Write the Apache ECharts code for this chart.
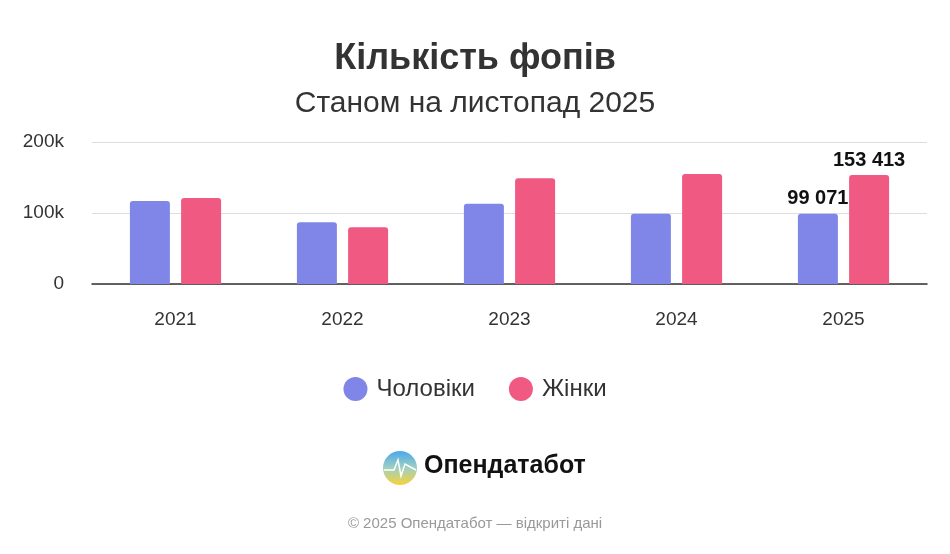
<!DOCTYPE html>
<html>
<head>
<meta charset="utf-8">
<script src="https://cdn.jsdelivr.net/npm/echarts@6/dist/echarts.min.js"></script>
<style>html,body{margin:0;background:#fff}#chart{width:950px;height:554px}</style>
</head>
<body>
<div id="chart"></div>
<script>
// дані
var years = ['2021', '2022', '2023', '2024', '2025'];
var men = [117000, 87000, 113000, 99000, 99071];
var women = [121000, 80000, 149000, 155000, 153413];

function fmt(v) {
	return String(v).replace(/\B(?=(\d{3})+(?!\d))/g, ' ');
}

var myChart = echarts.init(document.getElementById('chart'));
var lastLabel = {
	show: true, position: 'top', color: '#111', fontWeight: 'bold', fontSize: 20,
	fontFamily: 'Arial', formatter: function (p) { return fmt(p.value); }
};
var option = {
	animation: false,
	title: {
		text: 'Кількість фопів',
		subtext: 'Станом на листопад 2025',
		left: 'center', top: 36, itemGap: 12,
		textStyle: { fontSize: 36, fontWeight: 'bold', color: '#333', fontFamily: 'Arial' },
		subtextStyle: { fontSize: 30, color: '#333', fontFamily: 'Arial' }
	},
	legend: {
		data: ['Чоловіки', 'Жінки'],
		bottom: 148, itemGap: 34,
		icon: 'circle', itemWidth: 24, itemHeight: 24,
		textStyle: { fontSize: 24, color: '#333', fontFamily: 'Arial', padding: [0, 0, 0, 4] }
	},
	grid: { left: 92, right: 23, top: 142, height: 142 },
	xAxis: {
		type: 'category', data: years,
		axisTick: { show: false },
		axisLine: { lineStyle: { color: '#333', width: 1.5 } },
		axisLabel: { fontSize: 19, color: '#333', margin: 26, fontFamily: 'Arial' }
	},
	yAxis: {
		type: 'value', min: 0, max: 200000, interval: 100000,
		axisLabel: { fontSize: 19, color: '#333', fontFamily: 'Arial', margin: 28,
			formatter: function (v) { return v === 0 ? '0' : v / 1000 + 'k'; } },
		splitLine: { lineStyle: { color: '#ddd' } }
	},
	series: [
		{
			name: 'Чоловіки', type: 'bar', barWidth: 40, barGap: '28%',
			itemStyle: { color: '#8086e8', borderRadius: [3, 3, 0, 0] },
			data: men.map(function (v, i) { return i === men.length - 1 ? { value: v, label: lastLabel } : v; })
		},
		{
			name: 'Жінки', type: 'bar', barWidth: 40,
			itemStyle: { color: '#f05a82', borderRadius: [3, 3, 0, 0] },
			data: women.map(function (v, i) { return i === women.length - 1 ? { value: v, label: lastLabel } : v; })
		}
	],
	graphic: [
		{ type: 'circle', shape: { cx: 400, cy: 468, r: 17 },
			style: { fill: new echarts.graphic.LinearGradient(0, 0, 0, 1, [
				{ offset: 0, color: '#4aa8ec' }, { offset: 0.5, color: '#9fd0c0' }, { offset: 1, color: '#f7d23a' }]) } },
		{ type: 'polyline', shape: { points: [[384, 470], [394, 470], [398, 460], [401, 476], [405, 464], [416, 470]] },
			style: { stroke: '#fff', lineWidth: 1.5, fill: null } },
		{ type: 'text', left: 424, top: 454,
			style: { text: 'Опендатабот', fontSize: 25, fontWeight: 'bold', fill: '#111', fontFamily: 'Arial' } },
		{ type: 'text', left: 'center', top: 516,
			style: { text: '© 2025 Опендатабот — відкриті дані', fontSize: 15, fill: '#999', fontFamily: 'Arial' } }
	]
};
myChart.setOption(option);
</script>
</body>
</html>
